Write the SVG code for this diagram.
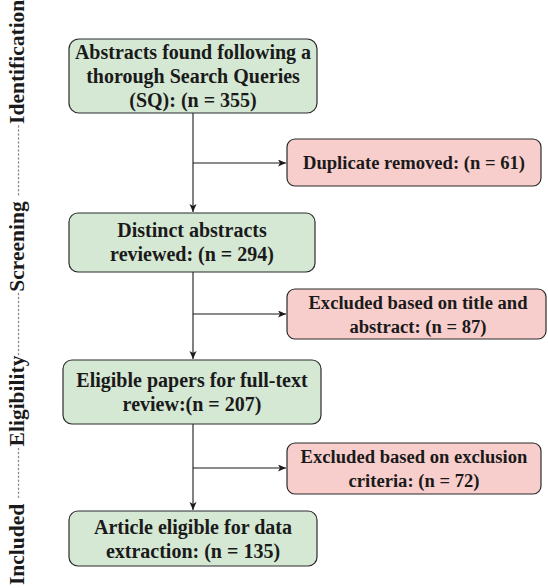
<svg xmlns="http://www.w3.org/2000/svg" width="548" height="588" viewBox="0 0 548 588">
<style>
.g{fill:#d5e8d4;stroke:#2b2b2b;stroke-width:1.2}
.p{fill:#f8cecc;stroke:#2b2b2b;stroke-width:1.2}
.t{font-family:"Liberation Serif","Times New Roman",serif;font-weight:bold;fill:#1a1a1a;text-anchor:middle}
.tg{font-size:20px}
.tp{font-size:18.6px}
.c{fill:none;stroke:#1a1a1a;stroke-width:1.1}
.lab{font-family:"Liberation Serif","Times New Roman",serif;font-weight:bold;font-size:21.5px;fill:#1a1a1a}
.dash{font-weight:normal;font-size:9px;letter-spacing:1px}
</style>
<defs>
<marker id="arr" markerWidth="9" markerHeight="8" refX="8" refY="3.5" orient="auto" markerUnits="userSpaceOnUse">
<path d="M0,0 L8,3.5 L0,7 L2,3.5 z" fill="#1a1a1a"/>
</marker>
</defs>
<rect width="548" height="588" fill="#ffffff"/>
<g id="connectors">
<line class="c" x1="193" y1="113" x2="193" y2="212" marker-end="url(#arr)"/>
<line class="c" x1="193" y1="163" x2="286" y2="163" marker-end="url(#arr)"/>
<line class="c" x1="193" y1="272" x2="193" y2="359" marker-end="url(#arr)"/>
<line class="c" x1="193" y1="314" x2="286" y2="314" marker-end="url(#arr)"/>
<line class="c" x1="193" y1="424" x2="193" y2="510" marker-end="url(#arr)"/>
<line class="c" x1="193" y1="468" x2="286" y2="468" marker-end="url(#arr)"/>
</g>
<g id="n1">
<rect class="g" x="69" y="39" width="248" height="74" rx="10"/>
<text class="t tg" x="193" y="59">Abstracts found following a</text>
<text class="t tg" x="193" y="83">thorough Search Queries</text>
<text class="t tg" x="193" y="107">(SQ): (n = 355)</text>
</g>
<g id="n2">
<rect class="p" x="287" y="139" width="254" height="47" rx="8"/>
<text class="t tp" x="414" y="169">Duplicate removed: (n = 61)</text>
</g>
<g id="n3">
<rect class="g" x="69" y="213" width="246" height="59" rx="9"/>
<text class="t tg" x="192" y="237">Distinct abstracts</text>
<text class="t tg" x="192" y="261">reviewed: (n = 294)</text>
</g>
<g id="n4">
<rect class="p" x="287" y="289" width="259" height="50" rx="8"/>
<text class="t tp" x="418" y="309">Excluded based on title and</text>
<text class="t tp" x="418" y="333">abstract: (n = 87)</text>
</g>
<g id="n5">
<rect class="g" x="63" y="360" width="258" height="64" rx="9"/>
<text class="t tg" x="192" y="387">Eligible papers for full-text</text>
<text class="t tg" x="192" y="411">review:(n = 207)</text>
</g>
<g id="n6">
<rect class="p" x="287" y="443" width="254" height="51" rx="8"/>
<text class="t tp" x="414" y="463">Excluded based on exclusion</text>
<text class="t tp" x="414" y="487">criteria: (n = 72)</text>
</g>
<g id="n7">
<rect class="g" x="69" y="511" width="248" height="55" rx="9"/>
<text class="t tg" x="193" y="534">Article eligible for data</text>
<text class="t tg" x="193" y="558">extraction: (n = 135)</text>
</g>
<g id="phases">
<text class="lab" transform="translate(24,585) rotate(-90)">Included <tspan class="dash" dy="-3">-------------</tspan><tspan dy="3">Eligibility</tspan><tspan class="dash" dy="-3">----------------</tspan><tspan dy="3">Screening </tspan><tspan class="dash" dy="-3">------------------</tspan><tspan dy="3">Identification</tspan></text>
</g>
</svg>
